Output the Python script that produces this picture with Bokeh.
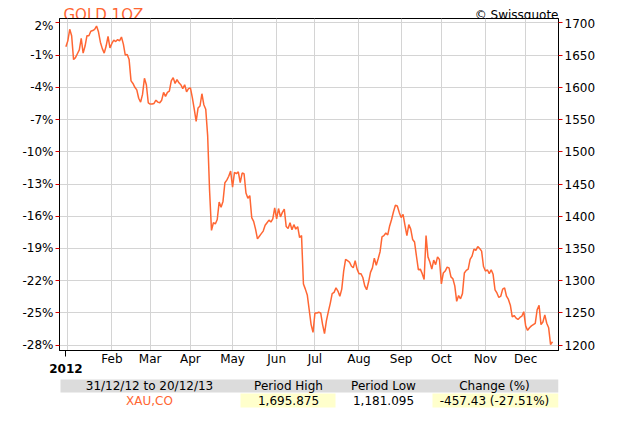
import pandas as pd
from bokeh.plotting import figure
from bokeh.models import Range1d, LinearAxis, FixedTicker, ColumnDataSource
from bokeh.layouts import column
from bokeh.embed import file_html
from bokeh.resources import INLINE
from bokeh.core.properties import value

# ---- data: daily (weekday) gold price, 31/12/2012 .. 20/12/2013 ----
dec_2012 = [1662.8]
jan = [1672, 1690, 1680, 1643, 1646, 1652, 1658, 1676, 1653, 1664, 1680, 1680,
       1687, 1688, 1690, 1695, 1686, 1670, 1660, 1653, 1664, 1679, 1661]
feb = [1668, 1673, 1671, 1674, 1672, 1678, 1667, 1650, 1651, 1643, 1610, 1606,
       1600, 1596, 1583, 1577, 1589, 1614, 1604, 1576]
mar = [1574, 1574, 1575, 1580, 1577, 1576, 1580, 1592, 1586, 1592, 1594, 1610,
       1615, 1606, 1612, 1607, 1604, 1598, 1604, 1593, 1598]
apr = [1599, 1584, 1566, 1547, 1568, 1571, 1590, 1573, 1566, 1525, 1440, 1378,
       1390, 1388, 1395, 1422, 1414, 1423, 1452, 1456, 1462, 1470]
may = [1445, 1468, 1466, 1469, 1452, 1467, 1466, 1436, 1428, 1432, 1398, 1392,
       1380, 1365, 1369, 1373, 1377, 1386, 1390, 1394, 1391, 1396, 1413]
jun = [1396, 1412, 1399, 1406, 1411, 1384, 1381, 1390, 1379, 1387, 1380, 1384,
       1367, 1370, 1295, 1287, 1278, 1255, 1232, 1220]
jul = [1250, 1250, 1251, 1250, 1232, 1218, 1238, 1252, 1265, 1280, 1282, 1289,
       1284, 1276, 1287, 1315, 1333, 1331, 1329, 1323, 1320, 1331, 1318]
aug = [1311, 1311, 1305, 1292, 1286, 1298, 1313, 1320, 1335, 1324, 1334, 1345,
       1368, 1370, 1374, 1371, 1385, 1395, 1407, 1417, 1416, 1406]
sep = [1398, 1403, 1386, 1370, 1387, 1380, 1364, 1360, 1338, 1317, 1318, 1311,
       1302, 1370, 1337, 1329, 1318, 1332, 1325, 1337, 1333]
oct_ = [1295, 1312, 1315, 1321, 1320, 1306, 1303, 1292, 1268, 1277, 1272, 1280,
        1312, 1316, 1318, 1333, 1338, 1349, 1347, 1353, 1350, 1346, 1322]
nov = [1315, 1317, 1311, 1317, 1310, 1286, 1281, 1274, 1276, 1287, 1289, 1276,
       1271, 1262, 1244, 1246, 1242, 1240, 1243, 1245, 1252]
dec = [1230, 1223, 1227, 1230, 1232, 1234, 1255, 1262, 1232, 1236, 1247, 1234,
       1227, 1201, 1205.4]

month_labels = ["Feb", "Mar", "Apr", "May", "Jun", "Jul", "Aug", "Sep", "Oct", "Nov", "Dec"]
year_label = "2012"
price_ticks = [1200, 1250, 1300, 1350, 1400, 1450, 1500, 1550, 1600, 1650, 1700]
pct_labels = ["-28%", "-25%", "-22%", "-19%", "-16%", "-13%", "-10%", "-7%", "-4%", "-1%", "2%"]

title_text = "GOLD 1OZ"
credit_text = "\u00a9 Swissquote"
table_headers = ["31/12/12 to 20/12/13", "Period High", "Period Low", "Change (%)"]
table_values = ["XAU,CO", "1,695.875", "1,181.095", "-457.43 (-27.51%)"]

# ---- build ----
prices = dec_2012 + jan + feb + mar + apr + may + jun + jul + aug + sep + oct_ + nov + dec
dates = pd.bdate_range("2012-12-31", "2013-12-20")
n = min(len(dates), len(prices))
idx = list(range(n))
src = ColumnDataSource(dict(i=idx, price=prices[:n]))

month_starts = []
for m in range(1, 13):
    for k in range(n):
        if dates[k].year == 2013 and dates[k].month == m:
            month_starts.append(k)
            break

ORANGE = "#ff6633"
FONT = "DejaVu Sans"
BL, BR, FW = 59, 46, 499   # common left border, right border, frame width
X0, X1 = 60, 559           # page-pixel extent of the frame (for the text strips)


def panel(fh, y0, y1):
    """A text-only strip whose frame lines up with the chart frame (page-pixel coordinates)."""
    f = figure(frame_width=FW, frame_height=fh, x_range=Range1d(X0, X1), y_range=Range1d(y1, y0),
               x_axis_type=None, y_axis_type=None, min_border_left=BL, min_border_right=BR,
               min_border_top=0, min_border_bottom=0, outline_line_color=None,
               toolbar_location=None, output_backend="svg")
    f.grid.visible = False
    f.background_fill_alpha = 0
    f.border_fill_alpha = 0
    return f


# header strip (page y 1..19)
h = panel(18, 1, 19)
h.text(x=[64], y=[15.2], text=[title_text], text_font=value(FONT), text_font_size="15px",
       text_color=ORANGE, text_baseline="alphabetic", text_align="left")
h.text(x=[559], y=[15.2], text=[credit_text], text_font=value(FONT), text_font_size="12px",
       text_color="black", text_baseline="alphabetic", text_align="right")

# main chart
p = figure(frame_width=FW, frame_height=332,
           x_range=Range1d(-3.34, 257.14), y_range=Range1d(1191.8, 1706.7),
           y_axis_location="right", toolbar_location=None, output_backend="svg",
           min_border_left=BL, min_border_right=BR, min_border_top=0, min_border_bottom=27)
p.outline_line_color = "black"
p.outline_line_alpha = 1.0
p.background_fill_color = "white"
p.border_fill_alpha = 0

p.line(x="i", y="price", source=src, line_color=ORANGE, line_width=1.5)

p.xgrid.ticker = FixedTicker(ticks=month_starts)
p.ygrid.ticker = FixedTicker(ticks=price_ticks)
p.grid.grid_line_color = "#d4d4d4"
p.grid.grid_line_width = 1

ra = p.yaxis[0]
ra.ticker = FixedTicker(ticks=price_ticks)

la = LinearAxis(ticker=FixedTicker(ticks=price_ticks),
                major_label_overrides=dict(zip(price_ticks, pct_labels)))
p.add_layout(la, "left")

for ax in (ra, la):
    ax.major_tick_out = 4
    ax.major_tick_in = 0
    ax.major_tick_line_color = "#dd0000"
    ax.minor_tick_line_color = None
    ax.axis_line_color = "black"
    ax.major_label_text_font = FONT
    ax.major_label_text_font_size = "12px"
    ax.major_label_text_color = "black"
    ax.major_label_standoff = 2

xa = p.xaxis[0]
xa.ticker = FixedTicker(ticks=month_starts[1:], minor_ticks=[0])
xa.major_label_overrides = dict(zip(month_starts[1:], month_labels))
xa.major_tick_line_color = None
xa.major_tick_out = 0
xa.major_tick_in = 0
xa.minor_tick_out = 6
xa.minor_tick_in = 0
xa.minor_tick_line_color = "black"
xa.axis_line_color = "black"
xa.major_label_text_font = FONT
xa.major_label_text_font_size = "12px"
xa.major_label_text_color = "black"
xa.major_label_standoff = -5

ya = LinearAxis(ticker=FixedTicker(ticks=[0]), major_label_overrides={0: year_label})
ya.major_tick_line_color = None
ya.major_tick_out = 0
ya.major_tick_in = 0
ya.minor_tick_line_color = None
ya.axis_line_color = None
ya.major_label_text_font = FONT
ya.major_label_text_font_size = "12px"
ya.major_label_text_font_style = "bold"
ya.major_label_text_color = "black"
ya.major_label_standoff = -5
p.add_layout(ya, "below")

# stats table strip (page y 378..412)
t = panel(34, 378, 412)
col_x = [150, 289, 384, 495]
t.quad(left=[61], right=[559], top=[380], bottom=[393], fill_color="#dcdcdc", line_color=None)
t.quad(left=[241, 433], right=[336, 559], top=[394, 394], bottom=[408, 408],
       fill_color="#ffffcc", line_color=None)
t.text(x=col_x, y=[386.5] * 4, text=table_headers, text_font=value(FONT), text_font_size="12px",
       text_color="black", text_align="center", text_baseline="middle")
t.text(x=col_x, y=[401] * 4, text=table_values, text_font=value(FONT), text_font_size="12px",
       text_color=[ORANGE, "black", "black", "black"], text_align="center", text_baseline="middle")

layout = column(h, p, t)
open("out.html", "w").write(file_html(layout, INLINE))
